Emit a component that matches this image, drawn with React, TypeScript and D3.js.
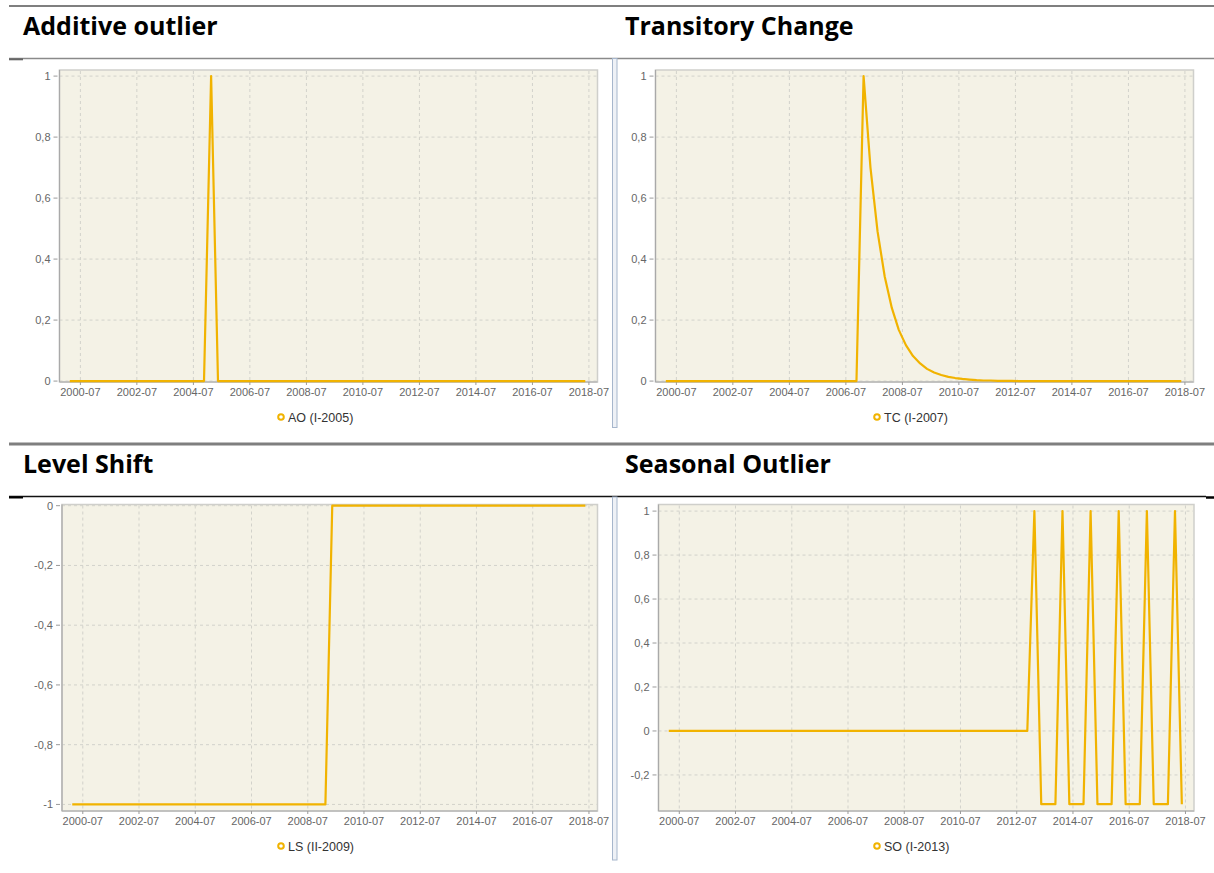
import React, { useEffect, useRef } from "react";
import * as d3 from "d3";

// quarterly series, 2000Q1 .. 2018Q2
const firstYear = 2000;
const xTickLabels = ["2000-07", "2002-07", "2004-07", "2006-07", "2008-07", "2010-07", "2012-07", "2014-07", "2016-07", "2018-07"];

const aoValues = [
  0, 0, 0, 0, 0, 0, 0, 0, 0, 0, 0, 0, 0, 0, 0, 0, 0, 0, 0, 0,
  1, 0, 0, 0, 0, 0, 0, 0, 0, 0, 0, 0, 0, 0, 0, 0, 0, 0, 0, 0,
  0, 0, 0, 0, 0, 0, 0, 0, 0, 0, 0, 0, 0, 0, 0, 0, 0, 0, 0, 0,
  0, 0, 0, 0, 0, 0, 0, 0, 0, 0, 0, 0, 0, 0,
];

const tcValues = [
  0, 0, 0, 0, 0, 0, 0, 0, 0, 0, 0, 0, 0, 0, 0, 0, 0, 0, 0, 0,
  0, 0, 0, 0, 0, 0, 0, 0, 1, 0.7, 0.49, 0.343, 0.24, 0.168, 0.118, 0.082, 0.058, 0.04, 0.028, 0.02,
  0.014, 0.01, 0.007, 0.005, 0.003, 0.002, 0.002, 0.001, 0.001, 0.001, 0, 0, 0, 0, 0, 0, 0, 0, 0, 0,
  0, 0, 0, 0, 0, 0, 0, 0, 0, 0, 0, 0, 0, 0,
];

const lsValues = [
  -1, -1, -1, -1, -1, -1, -1, -1, -1, -1, -1, -1, -1, -1, -1, -1, -1, -1, -1, -1,
  -1, -1, -1, -1, -1, -1, -1, -1, -1, -1, -1, -1, -1, -1, -1, -1, -1, 0, 0, 0,
  0, 0, 0, 0, 0, 0, 0, 0, 0, 0, 0, 0, 0, 0, 0, 0, 0, 0, 0, 0,
  0, 0, 0, 0, 0, 0, 0, 0, 0, 0, 0, 0, 0, 0,
];

const soValues = [
  0, 0, 0, 0, 0, 0, 0, 0, 0, 0, 0, 0, 0, 0, 0, 0, 0, 0, 0, 0,
  0, 0, 0, 0, 0, 0, 0, 0, 0, 0, 0, 0, 0, 0, 0, 0, 0, 0, 0, 0,
  0, 0, 0, 0, 0, 0, 0, 0, 0, 0, 0, 0, 1, -0.333, -0.333, -0.333, 1, -0.333, -0.333, -0.333,
  1, -0.333, -0.333, -0.333, 1, -0.333, -0.333, -0.333, 1, -0.333, -0.333, -0.333, 1, -0.333,
];

const titles = ["Additive outlier", "Transitory Change", "Level Shift", "Seasonal Outlier"];
const legendLabels = ["AO (I-2005)", "TC (I-2007)", "LS (II-2009)", "SO (I-2013)"];
const yTicksPos = [0, 0.2, 0.4, 0.6, 0.8, 1];
const yTicksLS = [-1, -0.8, -0.6, -0.4, -0.2, 0];
const yTicksSO = [-0.2, 0, 0.2, 0.4, 0.6, 0.8, 1];

const panels = [
  { title: titles[0], legend: legendLabels[0], values: aoValues, yTicks: yTicksPos, yDomain: [-0.003, 1.02], plot: { x0: 59.5, x1: 597.5, y0: 70, y1: 382 }, titleX: 23, titleY: 35, legendX: 281, legendY: 417 },
  { title: titles[1], legend: legendLabels[1], values: tcValues, yTicks: yTicksPos, yDomain: [-0.003, 1.02], plot: { x0: 655.5, x1: 1193.5, y0: 70, y1: 382 }, titleX: 625, titleY: 35, legendX: 877, legendY: 417 },
  { title: titles[2], legend: legendLabels[2], values: lsValues, yTicks: yTicksLS, yDomain: [-1.022, 0.004], plot: { x0: 62, x1: 597.5, y0: 504.5, y1: 811 }, titleX: 23, titleY: 473, legendX: 281, legendY: 846 },
  { title: titles[3], legend: legendLabels[3], values: soValues, yTicks: yTicksSO, yDomain: [-0.364, 1.03], plot: { x0: 658.5, x1: 1194, y0: 504.5, y1: 811 }, titleX: 625, titleY: 473, legendX: 877, legendY: 846 },
];

const lineColor = "#f1b300";
const commaFmt = d3.formatLocale({ decimal: ",", thousands: ".", grouping: [3], currency: ["", ""], minus: "-" }).format("~g");
const parseMonth = d3.timeParse("%Y-%m");

const App: React.FC = () => {
  const svgRef = useRef<SVGSVGElement | null>(null);

  useEffect(() => {
    if (!svgRef.current) return;
    const svg = d3.select(svgRef.current);
    svg.selectAll("*").remove();

    // separator lines
    svg.append("line").attr("x1", 9).attr("x2", 1214).attr("y1", 6).attr("y2", 6).attr("stroke", "#7f7f7f").attr("stroke-width", 2);
    svg.append("line").attr("x1", 9).attr("x2", 1214).attr("y1", 58.5).attr("y2", 58.5).attr("stroke", "#8a8a8a").attr("stroke-width", 1.3);
    svg.append("line").attr("x1", 9).attr("x2", 23).attr("y1", 59.3).attr("y2", 59.3).attr("stroke", "#666").attr("stroke-width", 2);
    svg.append("line").attr("x1", 9).attr("x2", 1214).attr("y1", 444).attr("y2", 444).attr("stroke", "#7f7f7f").attr("stroke-width", 3);
    svg.append("line").attr("x1", 9).attr("x2", 1206).attr("y1", 496.5).attr("y2", 496.5).attr("stroke", "#111").attr("stroke-width", 1.3);
    svg.append("line").attr("x1", 9).attr("x2", 23).attr("y1", 497.5).attr("y2", 497.5).attr("stroke", "#000").attr("stroke-width", 2);
    svg.append("line").attr("x1", 1206).attr("x2", 1214).attr("y1", 497.5).attr("y2", 497.5).attr("stroke", "#000").attr("stroke-width", 2.5);

    // vertical splitters
    [[58.5, 427.5], [497, 860]].forEach(([a, b]) => {
      svg.append("rect").attr("x", 612.5).attr("y", a).attr("width", 4.5).attr("height", b - a)
        .attr("fill", "#eef1f6").attr("stroke", "#a6b6cc").attr("stroke-width", 1);
    });

    const xDomain = [new Date(1999, 9, 5), new Date(2018, 9, 20)];
    const dates = d3.range(aoValues.length).map(i => new Date(firstYear + Math.floor(i / 4), (i % 4) * 3 + 1, 15));
    const tickDates = xTickLabels.map(s => parseMonth(s)!);

    panels.forEach(p => {
      const g = svg.append("g");
      const { x0, x1, y0, y1 } = p.plot;
      const x = d3.scaleTime().domain(xDomain).range([x0, x1]);
      const y = d3.scaleLinear().domain(p.yDomain).range([y1, y0]);

      g.append("text").attr("x", p.titleX).attr("y", p.titleY)
        .attr("font-family", "'Open Sans', 'Noto Sans', sans-serif").attr("font-weight", 700)
        .attr("font-size", 25).attr("fill", "#000").text(p.title);

      g.append("rect").attr("x", x0).attr("y", y0).attr("width", x1 - x0).attr("height", y1 - y0)
        .attr("fill", "#f4f2e6").attr("stroke", "#cfcfcb").attr("stroke-width", 1.5);

      // grid
      g.selectAll(".vg").data(tickDates).enter().append("line")
        .attr("x1", d => x(d)).attr("x2", d => x(d)).attr("y1", y0 + 1).attr("y2", y1)
        .attr("stroke", "#d2d2cb").attr("stroke-width", 1).attr("stroke-dasharray", "3,3");
      g.selectAll(".hg").data(p.yTicks).enter().append("line")
        .attr("x1", x0).attr("x2", x1 - 1).attr("y1", d => y(d)).attr("y2", d => y(d))
        .attr("stroke", "#d2d2cb").attr("stroke-width", 1).attr("stroke-dasharray", "3,3");

      // axis lines
      g.append("line").attr("x1", x0).attr("x2", x0).attr("y1", y0).attr("y2", y1).attr("stroke", "#a9a9a9").attr("stroke-width", 1.2);
      g.append("line").attr("x1", x0).attr("x2", x1).attr("y1", y1).attr("y2", y1).attr("stroke", "#a9a9a9").attr("stroke-width", 1.2);

      // y ticks
      g.selectAll(".yt").data(p.yTicks).enter().append("line")
        .attr("x1", x0 - 6).attr("x2", x0 - 2).attr("y1", d => y(d)).attr("y2", d => y(d))
        .attr("stroke", "#9a9a9a").attr("stroke-width", 1);
      g.selectAll(".yl").data(p.yTicks).enter().append("text")
        .attr("x", x0 - 9).attr("y", d => y(d) + 4).attr("text-anchor", "end")
        .attr("font-family", "'Liberation Sans', Arial, sans-serif").attr("font-size", 11).attr("fill", "#666")
        .text(d => commaFmt(d));

      // x ticks
      g.selectAll(".xt").data(tickDates).enter().append("line")
        .attr("x1", d => x(d)).attr("x2", d => x(d)).attr("y1", y1).attr("y2", y1 + 3)
        .attr("stroke", "#9a9a9a").attr("stroke-width", 1);
      g.selectAll(".xl").data(tickDates).enter().append("text")
        .attr("x", d => x(d)).attr("y", y1 + 14).attr("text-anchor", "middle")
        .attr("font-family", "'Liberation Sans', Arial, sans-serif").attr("font-size", 11).attr("fill", "#666")
        .text((d, i) => xTickLabels[i]);

      // series
      const line = d3.line<number>().x((d, i) => x(dates[i])).y(d => y(d));
      g.append("path").datum(p.values).attr("d", line).attr("fill", "none")
        .attr("stroke", lineColor).attr("stroke-width", 2.2).attr("stroke-linejoin", "round");

      // legend
      g.append("circle").attr("cx", p.legendX).attr("cy", p.legendY).attr("r", 2.8)
        .attr("fill", "#fff").attr("stroke", lineColor).attr("stroke-width", 2);
      g.append("text").attr("x", p.legendX + 7).attr("y", p.legendY + 4.5)
        .attr("font-family", "'Liberation Sans', Arial, sans-serif").attr("font-size", 12.5).attr("fill", "#333")
        .text(p.legend);
    });
  }, []);

  return <svg ref={svgRef} width={1214} height={873} style={{ position: "absolute", left: 0, top: 0, background: "#fff" }}></svg>;
};

export default App;
